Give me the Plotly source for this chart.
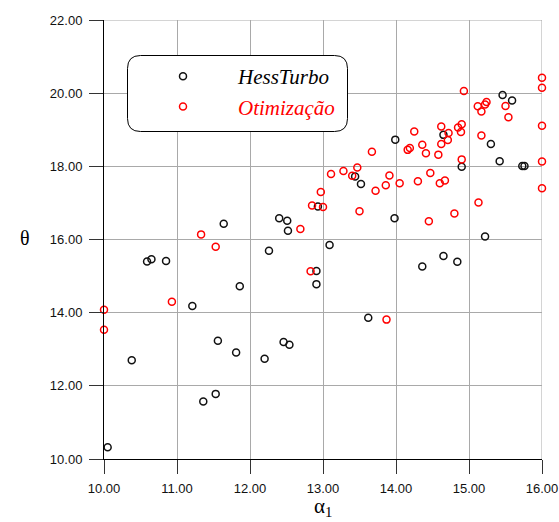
import plotly.graph_objects as go

# HessTurbo reference results
hess_alpha = [10.05, 10.38, 10.59, 10.65, 10.85, 11.21, 11.36, 11.53, 11.56, 11.64,
              11.81, 11.86, 12.20, 12.26, 12.40, 12.46, 12.51, 12.52, 12.54, 12.91,
              12.91, 12.93, 13.09, 13.44, 13.52, 13.62, 13.98, 13.99, 14.36, 14.65,
              14.65, 14.84, 14.90, 15.22, 15.30, 15.42, 15.46, 15.59, 15.73, 15.76]
hess_theta = [10.32, 12.70, 15.40, 15.46, 15.41, 14.18, 11.57, 11.78, 13.23, 16.43,
              12.91, 14.72, 12.74, 15.69, 16.58, 13.20, 16.51, 16.24, 13.12, 15.14,
              14.78, 16.90, 15.85, 17.72, 17.52, 13.86, 16.58, 18.73, 15.26, 18.86,
              15.55, 15.39, 17.99, 16.08, 18.61, 18.14, 19.95, 19.80, 18.01, 18.01]

# Optimisation results
opt_alpha = [10.00, 10.00, 10.93, 11.33, 11.53, 12.69, 12.83, 12.85, 12.97, 13.00,
             13.11, 13.28, 13.40, 13.47, 13.50, 13.67, 13.72, 13.86, 13.87, 13.91,
             14.05, 14.16, 14.19, 14.25, 14.30, 14.36, 14.41, 14.45, 14.47, 14.58,
             14.60, 14.62, 14.62, 14.67, 14.71, 14.72, 14.80, 14.85, 14.89, 14.90,
             14.90, 14.93, 15.12, 15.13, 15.17, 15.17, 15.22, 15.24, 15.50, 15.54,
             16.00, 16.00, 16.00, 16.00, 16.00]
opt_theta = [14.08, 13.53, 14.30, 16.14, 15.80, 16.29, 15.13, 16.93, 17.30, 16.89,
             17.79, 17.87, 17.74, 17.97, 16.77, 18.40, 17.33, 17.48, 13.81, 17.75,
             17.54, 18.45, 18.50, 18.95, 17.59, 18.59, 18.36, 16.50, 17.82, 18.32,
             17.54, 19.09, 18.61, 17.61, 18.72, 18.91, 16.71, 19.06, 18.94, 19.15,
             18.19, 20.06, 19.64, 17.01, 19.50, 18.84, 19.69, 19.76, 19.65, 19.34,
             20.42, 20.15, 19.11, 18.13, 17.40]

x_ticks = [10, 11, 12, 13, 14, 15, 16]
y_ticks = [10, 12, 14, 16, 18, 20, 22]

W, H = 559, 522
ML, MR, MT, MB = 104, 17, 20, 63
PW, PH = W - ML - MR, H - MT - MB


def px_to_paper(px, py):
    return (px - ML) / PW, (H - MB - py) / PH


def rounded_box(x0, y0, x1, y1, r):
    """Rounded rectangle path in paper coordinates from pixel corners."""
    rx, ry = r / PW, r / PH
    a0, b1 = px_to_paper(x0, y0)
    a1, b0 = px_to_paper(x1, y1)
    return (f"M {a0 + rx},{b1} L {a1 - rx},{b1} Q {a1},{b1} {a1},{b1 - ry} "
            f"L {a1},{b0 + ry} Q {a1},{b0} {a1 - rx},{b0} "
            f"L {a0 + rx},{b0} Q {a0},{b0} {a0},{b0 + ry} "
            f"L {a0},{b1 - ry} Q {a0},{b1} {a0 + rx},{b1} Z")


fig = go.Figure()
fig.add_trace(go.Scatter(
    x=hess_alpha, y=hess_theta, mode="markers", name="<i>HessTurbo</i>",
    marker=dict(symbol="circle-open", size=7, color="#111111", line=dict(width=1.5)),
    cliponaxis=False, hoverinfo="skip"))
fig.add_trace(go.Scatter(
    x=opt_alpha, y=opt_theta, mode="markers",
    name="<i><span style='color:#ff0000'>Otimização</span></i>",
    marker=dict(symbol="circle-open", size=7, color="#ff0000", line=dict(width=1.5)),
    cliponaxis=False, hoverinfo="skip"))

axis_common = dict(
    showgrid=True, gridcolor="#a9a9a9", gridwidth=1,
    showline=True, linecolor="#000000", linewidth=1,
    ticks="outside", ticklen=14, tickcolor="#333333", tickwidth=1,
    tickformat=".2f", zeroline=False, automargin=False,
    tickfont=dict(family="Liberation Sans", size=13, color="#111111"),
)
fig.update_xaxes(range=[10, 16], tickvals=x_ticks, ticklabelstandoff=3, **axis_common)
fig.update_yaxes(range=[10, 22], tickvals=y_ticks, ticklabelstandoff=4, **axis_common)

lx, ly = px_to_paper(128, 56)
fig.update_layout(
    width=W, height=H,
    margin=dict(l=ML, r=MR, t=MT, b=MB, autoexpand=False),
    paper_bgcolor="white", plot_bgcolor="white",
    showlegend=True,
    legend=dict(x=lx, y=ly, xanchor="left", yanchor="top",
                bgcolor="rgba(0,0,0,0)", borderwidth=0, itemwidth=100,
                font=dict(family="Liberation Serif", size=21, color="#000000")),
    shapes=[
        dict(type="line", xref="x", yref="y", x0=10, x1=16, y0=22, y1=22,
             line=dict(color="#a9a9a9", width=1), layer="below"),
        dict(type="line", xref="x", yref="y", x0=16, x1=16, y0=10, y1=22,
             line=dict(color="#a9a9a9", width=1), layer="below"),
        dict(type="path", xref="paper", yref="paper",
             path=rounded_box(127.5, 55.5, 347.5, 131.5, 13),
             fillcolor="white", line=dict(color="#000000", width=1), layer="above"),
    ],
    annotations=[
        dict(text="α<sub>1</sub>", x=0.5, y=0, xref="paper", yref="paper",
             xanchor="center", yanchor="top", yshift=-33, showarrow=False,
             font=dict(family="Liberation Serif", size=21, color="#000000")),
        dict(text="θ", x=px_to_paper(25, 0)[0], y=px_to_paper(0, 238)[1],
             xref="paper", yref="paper", xanchor="center", yanchor="middle",
             showarrow=False,
             font=dict(family="Liberation Serif", size=20, color="#000000")),
    ],
)

fig.write_html("out.html")
